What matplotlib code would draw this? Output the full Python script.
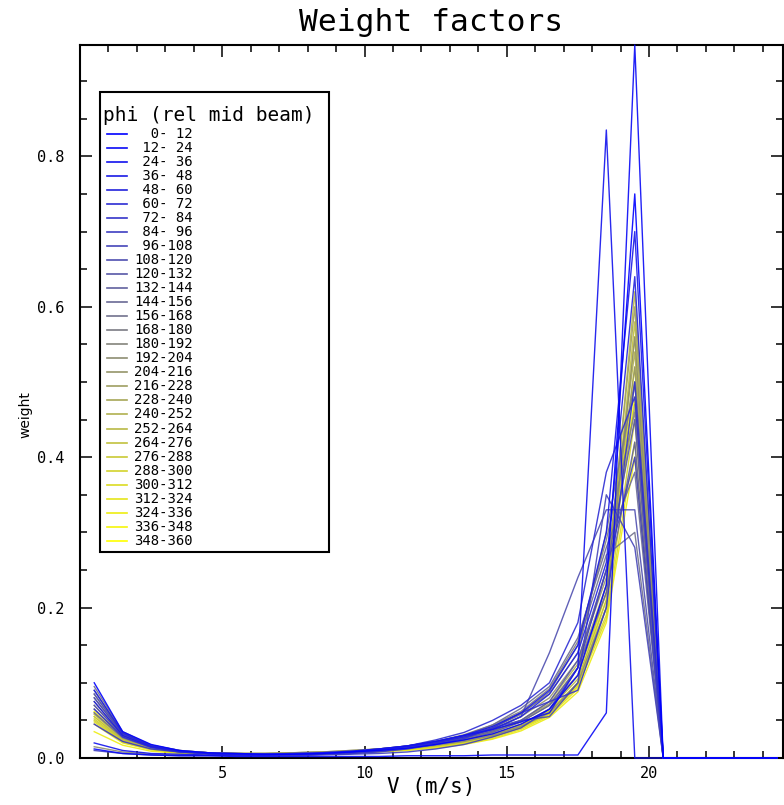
import matplotlib
matplotlib.use("Agg")
from matplotlib import pyplot as plt
from matplotlib.lines import Line2D
from matplotlib.patches import Rectangle
from matplotlib.ticker import MultipleLocator, FixedLocator

# velocity bin centres (m/s)
v_bins = [0.5, 1.5, 2.5, 3.5, 4.5, 5.5, 6.5, 7.5, 8.5, 9.5, 10.5, 11.5,
          12.5, 13.5, 14.5, 15.5, 16.5, 17.5, 18.5, 19.5, 20.5, 21.5,
          22.5, 23.5, 24.5]

# phi sector edges (deg, rel mid beam)
phi_edges = [0, 12, 24, 36, 48, 60, 72, 84, 96, 108, 120, 132, 144, 156,
             168, 180, 192, 204, 216, 228, 240, 252, 264, 276, 288, 300,
             312, 324, 336, 348, 360]

# weights per phi sector
w00 = [0.100, 0.035, 0.018, 0.010, 0.007, 0.006, 0.005, 0.005, 0.006, 0.008, 0.010, 0.013, 0.018, 0.024, 0.032, 0.045, 0.065, 0.110, 0.230, 0.750, 0, 0, 0, 0, 0]
w01 = [0.012, 0.006, 0.004, 0.003, 0.003, 0.002, 0.002, 0.002, 0.002, 0.002, 0.002, 0.003, 0.003, 0.003, 0.004, 0.004, 0.004, 0.004, 0.060, 0.948, 0, 0, 0, 0, 0]
w02 = [0.020, 0.010, 0.006, 0.005, 0.004, 0.004, 0.004, 0.005, 0.006, 0.008, 0.012, 0.016, 0.022, 0.030, 0.038, 0.048, 0.060, 0.120, 0.835, 0.000, 0, 0, 0, 0, 0]
w03 = [0.075, 0.030, 0.015, 0.009, 0.006, 0.005, 0.005, 0.006, 0.007, 0.009, 0.012, 0.016, 0.022, 0.030, 0.042, 0.060, 0.090, 0.150, 0.300, 0.700, 0, 0, 0, 0, 0]
w04 = [0.090, 0.033, 0.016, 0.009, 0.006, 0.005, 0.005, 0.005, 0.006, 0.008, 0.011, 0.015, 0.020, 0.028, 0.038, 0.055, 0.085, 0.140, 0.260, 0.640, 0, 0, 0, 0, 0]
w05 = [0.065, 0.028, 0.014, 0.008, 0.006, 0.005, 0.004, 0.005, 0.006, 0.008, 0.011, 0.016, 0.024, 0.034, 0.050, 0.070, 0.100, 0.180, 0.380, 0.480, 0, 0, 0, 0, 0]
w06 = [0.045, 0.022, 0.012, 0.008, 0.006, 0.005, 0.004, 0.004, 0.005, 0.006, 0.008, 0.012, 0.018, 0.026, 0.040, 0.060, 0.075, 0.090, 0.200, 0.500, 0, 0, 0, 0, 0]
w07 = [0.010, 0.006, 0.004, 0.003, 0.003, 0.003, 0.003, 0.003, 0.004, 0.005, 0.006, 0.008, 0.012, 0.018, 0.028, 0.040, 0.065, 0.120, 0.250, 0.400, 0, 0, 0, 0, 0]
w08 = [0.080, 0.032, 0.016, 0.009, 0.006, 0.005, 0.004, 0.004, 0.005, 0.007, 0.010, 0.014, 0.020, 0.030, 0.040, 0.050, 0.055, 0.100, 0.350, 0.280, 0, 0, 0, 0, 0]
w09 = [0.070, 0.030, 0.015, 0.009, 0.006, 0.005, 0.004, 0.004, 0.005, 0.006, 0.009, 0.013, 0.020, 0.028, 0.038, 0.055, 0.140, 0.240, 0.330, 0.330, 0, 0, 0, 0, 0]
w10 = [0.085, 0.032, 0.016, 0.009, 0.006, 0.005, 0.004, 0.005, 0.006, 0.008, 0.010, 0.014, 0.019, 0.026, 0.036, 0.050, 0.075, 0.130, 0.250, 0.450, 0, 0, 0, 0, 0]
w11 = [0.090, 0.034, 0.017, 0.010, 0.007, 0.005, 0.005, 0.005, 0.006, 0.008, 0.010, 0.013, 0.018, 0.024, 0.034, 0.048, 0.070, 0.120, 0.220, 0.420, 0, 0, 0, 0, 0]
w12 = [0.060, 0.027, 0.014, 0.008, 0.006, 0.005, 0.005, 0.005, 0.006, 0.008, 0.011, 0.015, 0.021, 0.030, 0.044, 0.066, 0.095, 0.160, 0.280, 0.380, 0, 0, 0, 0, 0]
w13 = [0.095, 0.035, 0.017, 0.010, 0.007, 0.006, 0.005, 0.006, 0.007, 0.009, 0.011, 0.015, 0.020, 0.028, 0.040, 0.058, 0.088, 0.150, 0.270, 0.300, 0, 0, 0, 0, 0]
w14 = [0.085, 0.033, 0.017, 0.010, 0.007, 0.006, 0.005, 0.006, 0.007, 0.009, 0.012, 0.016, 0.022, 0.030, 0.042, 0.060, 0.085, 0.140, 0.300, 0.500, 0, 0, 0, 0, 0]
w15 = [0.080, 0.031, 0.016, 0.009, 0.007, 0.006, 0.005, 0.006, 0.007, 0.009, 0.012, 0.016, 0.022, 0.031, 0.044, 0.062, 0.092, 0.155, 0.290, 0.460, 0, 0, 0, 0, 0]
w16 = [0.015, 0.008, 0.005, 0.004, 0.004, 0.004, 0.004, 0.005, 0.006, 0.008, 0.010, 0.013, 0.017, 0.022, 0.030, 0.042, 0.060, 0.100, 0.200, 0.560, 0, 0, 0, 0, 0]
w17 = [0.075, 0.030, 0.015, 0.009, 0.007, 0.006, 0.006, 0.007, 0.008, 0.010, 0.012, 0.015, 0.020, 0.027, 0.038, 0.055, 0.080, 0.130, 0.240, 0.520, 0, 0, 0, 0, 0]
w18 = [0.070, 0.029, 0.015, 0.009, 0.007, 0.006, 0.006, 0.007, 0.008, 0.010, 0.012, 0.015, 0.019, 0.026, 0.036, 0.050, 0.072, 0.120, 0.230, 0.600, 0, 0, 0, 0, 0]
w19 = [0.065, 0.028, 0.014, 0.009, 0.007, 0.006, 0.006, 0.007, 0.008, 0.009, 0.011, 0.014, 0.018, 0.024, 0.034, 0.048, 0.070, 0.110, 0.220, 0.470, 0, 0, 0, 0, 0]
w20 = [0.060, 0.026, 0.013, 0.008, 0.006, 0.006, 0.006, 0.006, 0.007, 0.009, 0.011, 0.014, 0.018, 0.025, 0.035, 0.050, 0.075, 0.125, 0.250, 0.540, 0, 0, 0, 0, 0]
w21 = [0.058, 0.025, 0.013, 0.008, 0.006, 0.005, 0.005, 0.006, 0.007, 0.008, 0.010, 0.013, 0.017, 0.023, 0.032, 0.045, 0.065, 0.105, 0.210, 0.620, 0, 0, 0, 0, 0]
w22 = [0.055, 0.024, 0.012, 0.008, 0.006, 0.005, 0.005, 0.006, 0.007, 0.008, 0.010, 0.012, 0.016, 0.022, 0.030, 0.043, 0.062, 0.100, 0.200, 0.580, 0, 0, 0, 0, 0]
w23 = [0.052, 0.023, 0.012, 0.007, 0.006, 0.005, 0.005, 0.005, 0.006, 0.008, 0.010, 0.013, 0.017, 0.023, 0.031, 0.044, 0.064, 0.110, 0.230, 0.500, 0, 0, 0, 0, 0]
w24 = [0.050, 0.022, 0.012, 0.007, 0.005, 0.005, 0.005, 0.005, 0.006, 0.008, 0.009, 0.012, 0.016, 0.021, 0.029, 0.041, 0.060, 0.098, 0.190, 0.450, 0, 0, 0, 0, 0]
w25 = [0.048, 0.021, 0.011, 0.007, 0.005, 0.005, 0.005, 0.005, 0.006, 0.007, 0.009, 0.012, 0.015, 0.020, 0.028, 0.040, 0.058, 0.095, 0.185, 0.420, 0, 0, 0, 0, 0]
w26 = [0.045, 0.020, 0.011, 0.007, 0.005, 0.004, 0.004, 0.005, 0.006, 0.007, 0.009, 0.011, 0.014, 0.019, 0.026, 0.038, 0.056, 0.092, 0.200, 0.560, 0, 0, 0, 0, 0]
w27 = [0.035, 0.017, 0.009, 0.006, 0.005, 0.004, 0.004, 0.005, 0.005, 0.006, 0.008, 0.010, 0.013, 0.018, 0.025, 0.036, 0.054, 0.088, 0.180, 0.400, 0, 0, 0, 0, 0]
w28 = [0.055, 0.023, 0.012, 0.007, 0.005, 0.004, 0.004, 0.005, 0.006, 0.007, 0.009, 0.011, 0.015, 0.020, 0.028, 0.040, 0.058, 0.096, 0.210, 0.520, 0, 0, 0, 0, 0]
w29 = [0.062, 0.026, 0.013, 0.008, 0.006, 0.005, 0.005, 0.005, 0.006, 0.007, 0.009, 0.012, 0.016, 0.021, 0.030, 0.043, 0.062, 0.100, 0.220, 0.480, 0, 0, 0, 0, 0]

weights = [w00, w01, w02, w03, w04, w05, w06, w07, w08, w09,
           w10, w11, w12, w13, w14, w15, w16, w17, w18, w19,
           w20, w21, w22, w23, w24, w25, w26, w27, w28, w29]

W, H = 784, 805


def fx(x):
    return x / W


def fy(y):
    # pixel rows are counted from the top
    return 1 - y / H


plt.rcParams['font.family'] = ['DejaVu Sans Mono']

n = len(weights)
colors = []
for k in range(n):
    t = k / (n - 1)
    colors.append((t, t, 1 - t))  # blue -> yellow

labels = ['%3d-%3d' % (phi_edges[k], phi_edges[k + 1]) for k in range(n)]

fig = plt.figure(figsize=(7.84, 8.05), dpi=100)
ax = fig.add_axes([fx(80), fy(758), fx(703), 713 / H])

# yellow first so the blue sectors sit on top, like the original
for k in reversed(range(n)):
    ax.plot(v_bins, weights[k], color=colors[k], lw=1.0, alpha=0.9,
            clip_on=False, zorder=3)

ax.set_xlim(0, 24.71)
ax.set_ylim(0, 0.948)
ax.xaxis.set_major_locator(FixedLocator([5, 10, 15, 20]))
ax.xaxis.set_minor_locator(MultipleLocator(1))
ax.yaxis.set_major_locator(MultipleLocator(0.2))
ax.yaxis.set_minor_locator(MultipleLocator(0.05))
ax.yaxis.set_major_formatter(plt.FormatStrFormatter('%.1f'))
ax.tick_params(which='both', direction='in', top=True, right=True, width=1.1)
ax.tick_params(which='major', length=8.5, labelsize=11)
ax.tick_params(which='minor', length=5)
ax.tick_params(axis='y', pad=11)
ax.tick_params(axis='x', pad=6)
for s in ax.spines.values():
    s.set_linewidth(1.5)

ax.set_title('Weight factors', fontsize=22.5, pad=10)
ax.set_xlabel('V (m/s)', fontsize=15)
ax.xaxis.set_label_coords(0.5, -0.026)
ax.set_ylabel('weight', fontsize=10, family='DejaVu Sans')
ax.yaxis.set_label_coords(-0.068, 0.481)

# legend box drawn like the IDL one
fig.add_artist(Rectangle((fx(100), fy(552)), fx(229), 460 / H,
                         transform=fig.transFigure, facecolor='white',
                         edgecolor='black', lw=1.5, zorder=5))
fig.text(fx(103), fy(121), 'phi (rel mid beam)', fontsize=14,
         ha='left', va='baseline', zorder=6)
for k in range(n):
    yc = 133.5 + 14.05 * k
    fig.add_artist(Line2D([fx(107), fx(127)], [fy(yc), fy(yc)],
                          transform=fig.transFigure, color=colors[k],
                          lw=1.2, zorder=6))
    fig.text(fx(134), fy(yc), labels[k], fontsize=10, ha='left',
             va='center', zorder=6)

fig.savefig('out.png', dpi=100)
